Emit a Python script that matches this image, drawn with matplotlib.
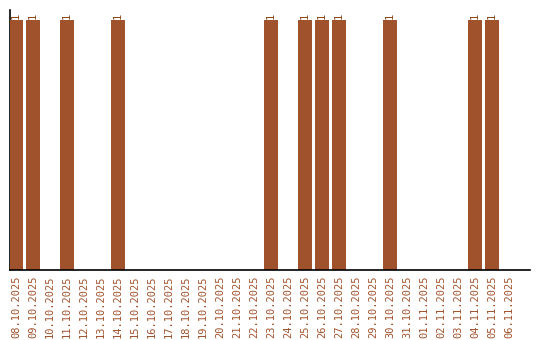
import matplotlib
matplotlib.use("Agg")
import matplotlib.pyplot as plt
import numpy as np

dates = ["08.10.2025", "09.10.2025", "10.10.2025", "11.10.2025", "12.10.2025",
         "13.10.2025", "14.10.2025", "15.10.2025", "16.10.2025", "17.10.2025",
         "18.10.2025", "19.10.2025", "20.10.2025", "21.10.2025", "22.10.2025",
         "23.10.2025", "24.10.2025", "25.10.2025", "26.10.2025", "27.10.2025",
         "28.10.2025", "29.10.2025", "30.10.2025", "31.10.2025", "01.11.2025",
         "02.11.2025", "03.11.2025", "04.11.2025", "05.11.2025", "06.11.2025"]
counts = [1, 1, 0, 1, 0, 0, 1, 0, 0, 0,
          0, 0, 0, 0, 0, 1, 0, 1, 1, 1,
          0, 0, 1, 0, 0, 0, 0, 1, 1, 0]

bar_color = "#a0522d"
text_color = "#a0522d"

fig = plt.figure(figsize=(5.4, 3.4), dpi=100)
ax = fig.add_axes([10 / 540, 1 - 270 / 340, 520 / 540, 260 / 340])

x = np.arange(len(dates))
ax.bar(x, counts, width=0.8, color=bar_color, zorder=3)

# value labels above the bars
for xi, c in zip(x, counts):
    if c > 0:
        ax.text(xi, c + 0.005, str(c), rotation=90, ha="center", va="bottom",
                fontsize=7.5, color="#8b4513", family="DejaVu Sans Mono")

ax.set_xlim(-0.36, 30.24)
ax.set_ylim(0, 1.04)
ax.set_xticks(x)
ax.set_xticklabels(dates, rotation=90, fontsize=7.5, color=text_color,
                   family="DejaVu Sans Mono")
ax.tick_params(axis="x", length=0, pad=4)
ax.set_yticks([])

for side in ["top", "right"]:
    ax.spines[side].set_visible(False)
ax.spines["left"].set_zorder(1)
ax.spines["bottom"].set_zorder(4)
ax.spines["left"].set_linewidth(1.2)
ax.spines["bottom"].set_linewidth(1.2)

fig.savefig("out.png", dpi=100)
